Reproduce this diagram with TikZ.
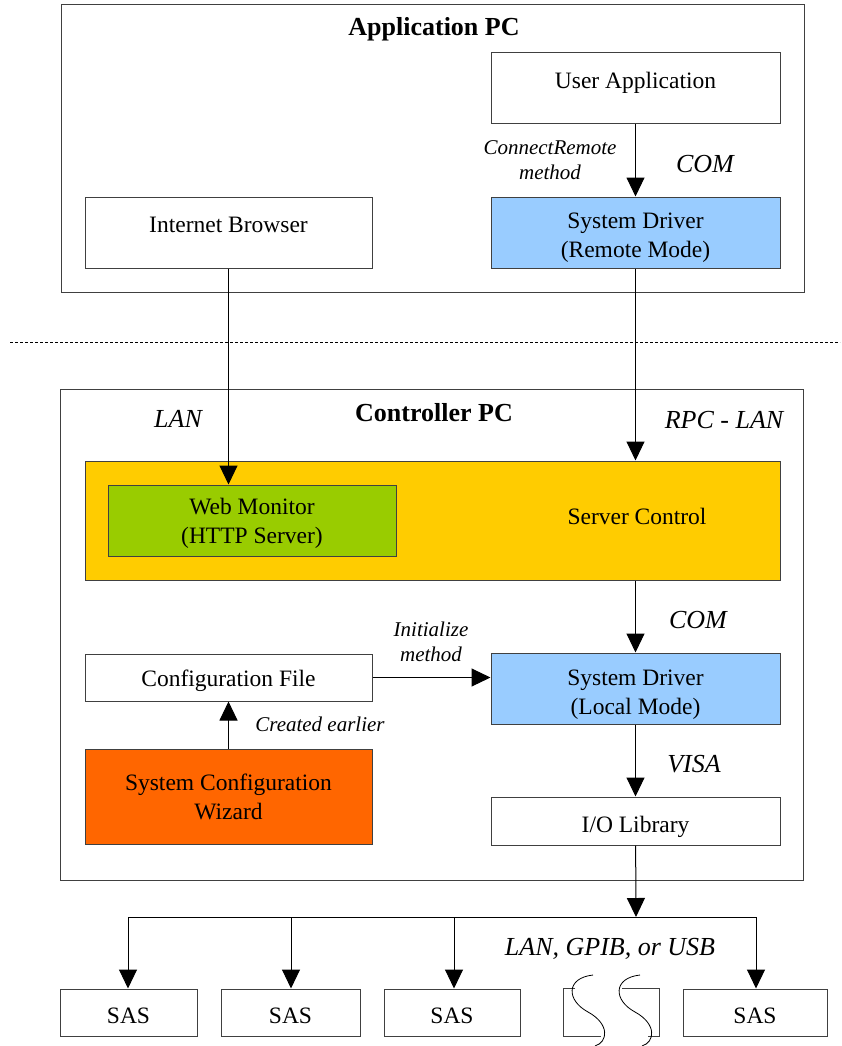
\documentclass[tikz,border=0pt]{standalone}
\usepackage{fontspec}
\setmainfont{Liberation Serif}
\usetikzlibrary{arrows.meta}
\definecolor{drvblue}{HTML}{99CCFF}
\definecolor{srvyellow}{HTML}{FFCC00}
\definecolor{webgreen}{HTML}{99CC00}
\definecolor{wizorange}{HTML}{FF6600}
\newcommand{\twoline}[2]{\begin{tabular}{@{}c@{}}#1\\#2\end{tabular}}
\newcommand{\nudge}[2]{\raisebox{#1}[\height][\depth]{#2}}
\tikzset{>/.tip={Triangle[length=19pt,width=18pt]},
  box/.style={draw=black!75, line width=1pt, inner sep=0pt, align=center,
    minimum width=289pt, minimum height=71pt, font=\fontsize{23.5}{29}\selectfont},
  pcbox/.style={draw=black!75, line width=1pt, inner sep=0pt, minimum width=743pt},
  sasbox/.style={box, minimum height=47pt},
  title/.style={font=\fontsize{26}{30}\selectfont\bfseries},
  biglab/.style={font=\fontsize{26}{30}\selectfont\itshape},
  smalllab/.style={align=center, font=\fontsize{21}{25}\selectfont\itshape},
  link/.style={line width=1pt}}

\begin{document}
\begin{tikzpicture}[x=1pt,y=-1pt]
\useasboundingbox (0,0) rectangle (841,1046);
% application pc
\node[pcbox, minimum height=287pt] (apppc) at (432.5,148.5) {};
\node[title] (apptitle) at (434,29) {Application PC};
\node[box] (userapp) at (635.5,88) {\nudge{5pt}{User Application}};
\node[box, fill=drvblue] (sdremote) at (635.5,232.5) {\nudge{-5pt}{\twoline{System Driver}{(Remote Mode)}}};
\node[box, minimum width=287pt] (browser) at (228.5,232.5) {\nudge{8pt}{Internet Browser}};

\coordinate (dashl) at (10,342);
\coordinate (dashr) at (840,342);
\draw[line width=0.8pt, dash pattern=on 3pt off 2pt] (dashl) -- (dashr);

% controller pc
\node[pcbox, minimum height=491pt] (ctrlpc) at (431.5,634.5) {};
\node[title] (ctrltitle) at (434,413) {Controller PC};
\node[box, fill=srvyellow, minimum width=695pt, minimum height=119pt] (server) at (432.5,520.5) {};
\node[font=\fontsize{23.5}{29}\selectfont] (servertext) at (637,516) {Server Control};
\node[box, fill=webgreen, minimum width=288pt] (webmon) at (252,520.5) {\nudge{-3pt}{\twoline{Web Monitor}{(HTTP Server)}}};
\node[box, fill=drvblue] (sdlocal) at (635.5,688.5) {\nudge{-5.5pt}{\twoline{System Driver}{(Local Mode)}}};
\node[box, minimum width=287pt, minimum height=47pt] (config) at (228.5,677.5) {\nudge{-3pt}{Configuration File}};
\node[box, fill=wizorange, minimum width=287pt, minimum height=95pt] (wizard) at (228.5,796.5) {System Configuration\\Wizard};
\node[box, minimum height=48pt] (iolib) at (635.5,821) {\nudge{-6pt}{I/O Library}};

% instruments
\node[sasbox, minimum width=137pt] (sas1) at (128.5,1012.5) {\nudge{-3pt}{SAS}};
\node[sasbox, minimum width=139pt] (sas2) at (290.5,1012.5) {\nudge{-3pt}{SAS}};
\node[sasbox, minimum width=136pt] (sas3) at (452,1012.5) {\nudge{-3pt}{SAS}};
\node[sasbox, minimum width=144pt] (sas4) at (755,1012.5) {\nudge{-3pt}{SAS}};
\draw[draw=black!75, line width=1pt] (575,988) -- (563,988) -- (563,1036) -- (601,1036);
\draw[draw=black!75, line width=1pt] (622,988) -- (659,988) -- (659,1036) -- (648,1036);
\draw[line width=0.8pt] (593,975) .. controls (566,978) and (566,1000) .. (588,1012)
  .. controls (610,1024) and (608,1042) .. (595,1046);
\draw[line width=0.8pt] (640,975) .. controls (613,978) and (613,1000) .. (635,1012)
  .. controls (657,1024) and (655,1042) .. (642,1046);

% connectors
\draw[link,->] (userapp) -- (sdremote);
\draw[link,->] (browser.south) -- (browser.south |- webmon.north);
\draw[link,->] (sdremote) -- (sdremote.south |- server.north);
\draw[link,->] (server.south -| sdlocal) -- (sdlocal);
\draw[link,->] (config) -- (sdlocal.west |- config);
\draw[link,->] (wizard) -- (config);
\draw[link,->] (sdlocal) -- (iolib);
\coordinate (bus) at (636,917);
\coordinate (busl) at (128,917);
\coordinate (busr) at (756,917);
\draw[link,->] (iolib) -- (bus);
\draw[link] (busl) -- (busr);
\draw[link,->] (busl) -- (busl |- sas1.north);
\draw[link,->] (bus -| 291,0) -- (sas2.north -| 291,0);
\draw[link,->] (bus -| 454,0) -- (sas3.north -| 454,0);
\draw[link,->] (busr) -- (busr |- sas4.north);

% labels
\node[smalllab] (connlab) at (550,160) {ConnectRemote\\method};
\node[biglab] (comlab) at (705,164) {COM};
\node[biglab] (lanlab) at (178,419) {LAN};
\node[biglab] (rpclab) at (724,420) {RPC - LAN};
\node[biglab] (comlab2) at (698,620) {COM};
\node[smalllab] (initlab) at (431,642) {Initialize\\method};
\node[smalllab] (createdlab) at (320,724) {Created earlier};
\node[biglab] (visalab) at (694,764) {VISA};
\node[biglab] (buslab) at (610,949) {LAN, GPIB, or USB};
\end{tikzpicture}
\end{document}
